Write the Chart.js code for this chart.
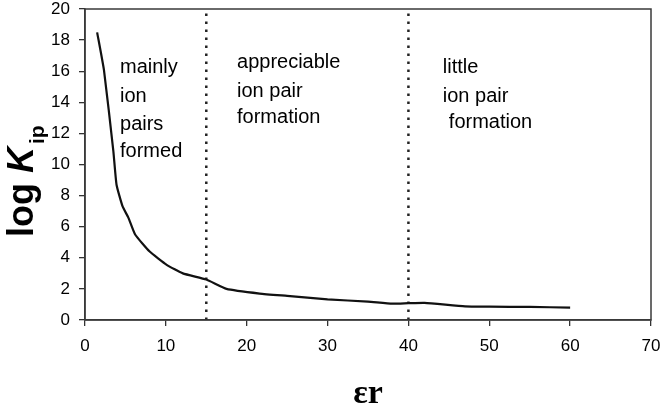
<!DOCTYPE html>
<html>
<head>
<meta charset="utf-8">
<script src="https://cdn.jsdelivr.net/npm/chart.js@4"></script>
<style>
  html, body { margin: 0; padding: 0; background: #fff; }
  #wrap { width: 662px; height: 411px; }
</style>
</head>
<body>
<div id="wrap"><canvas id="c"></canvas></div>
<script>
// relative permittivity vs log Kip
var epsR = [1.5, 2.35, 3.5, 3.9, 4.65, 5.35, 6.2, 8.0, 10.1, 12.1, 15.0, 17.5, 21.6, 25, 30, 35, 38, 40, 42, 47, 50, 55, 60];
var logKip = [18.5, 16.05, 10.9, 8.7, 7.3, 6.6, 5.5, 4.4, 3.55, 3.0, 2.6, 2.0, 1.7, 1.55, 1.33, 1.18, 1.05, 1.08, 1.1, 0.88, 0.86, 0.84, 0.8];

// region boundaries (dotted lines)
var boundaries = [15, 40];

var xTicks = [0, 10, 20, 30, 40, 50, 60, 70];
var yTicks = [0, 2, 4, 6, 8, 10, 12, 14, 16, 18, 20];

// region labels: text, x, y in data units
var regionText = [
    ["mainly", 4.33, 15.88],
    ["ion", 4.33, 14.04],
    ["pairs", 4.33, 12.22],
    ["formed", 4.33, 10.48],
    ["appreciable", 18.8, 16.2],
    ["ion pair", 18.8, 14.34],
    ["formation", 18.8, 12.67],
    ["little", 44.25, 15.88],
    ["ion pair", 44.25, 14.02],
    ["formation", 45.0, 12.35]
];

var curve = epsR.map(function (x, i) { return { x: x, y: logKip[i] }; });

var datasets = [
    {
        data: curve,
        showLine: true,
        borderColor: "#111",
        borderWidth: 2.2,
        pointRadius: 0,
        tension: 0.15
    }
];
boundaries.forEach(function (b) {
    datasets.push({
        data: [{ x: b, y: yTicks[0] }, { x: b, y: yTicks[yTicks.length - 1] }],
        showLine: true,
        borderColor: "#222",
        borderWidth: 2.5,
        borderDash: [2.5, 5.5],
        pointRadius: 0
    });
});

var extras = {
    id: "extras",
    afterDraw: function (chart) {
        var ctx = chart.ctx;
        var a = chart.chartArea;
        var xs = chart.scales.x, ys = chart.scales.y;
        ctx.save();
        // plot frame
        ctx.strokeStyle = "#3a3a3a";
        ctx.lineWidth = 1.5;
        ctx.strokeRect(a.left, a.top, a.right - a.left, a.bottom - a.top);

        // region texts
        ctx.fillStyle = "#000";
        ctx.font = "20px 'Liberation Sans', Arial, sans-serif";
        ctx.textAlign = "left";
        ctx.textBaseline = "alphabetic";
        regionText.forEach(function (t) {
            ctx.fillText(t[0], xs.getPixelForValue(t[1]), ys.getPixelForValue(t[2]));
        });

        // x title
        ctx.font = "bold 34px 'Liberation Serif', 'DejaVu Serif', serif";
        ctx.textAlign = "center";
        ctx.textBaseline = "alphabetic";
        ctx.fillText("\u03b5r", (a.left + a.right) / 2, 403);

        // y title: log K_ip
        ctx.translate(33, 237);
        ctx.rotate(-Math.PI / 2);
        ctx.textAlign = "left";
        ctx.font = "bold 36px 'Liberation Sans', Arial, sans-serif";
        ctx.fillText("log ", 0, 0);
        var w = ctx.measureText("log ").width;
        ctx.font = "italic bold 36px 'Liberation Sans', Arial, sans-serif";
        ctx.fillText("K", w, 0);
        w += ctx.measureText("K").width + 3;
        ctx.font = "bold 21px 'Liberation Sans', Arial, sans-serif";
        ctx.fillText("ip", w, 11);
        ctx.restore();
    }
};

var tickFont = { family: "'Liberation Sans', Arial, sans-serif", size: 17 };

new Chart(document.getElementById("c").getContext("2d"), {
    type: "scatter",
    data: { datasets: datasets },
    options: {
        responsive: true,
        maintainAspectRatio: false,
        animation: false,
        layout: { padding: { top: 9, right: 11, left: 0, bottom: 0 } },
        plugins: { legend: { display: false }, tooltip: { enabled: false } },
        scales: {
            x: {
                type: "linear",
                min: xTicks[0],
                max: xTicks[xTicks.length - 1],
                afterBuildTicks: function (s) { s.ticks = xTicks.map(function (v) { return { value: v }; }); },
                afterFit: function (s) { s.height = 91; s.paddingLeft = 0; s.paddingRight = 0; },
                ticks: { color: "#000", font: tickFont, padding: 10, maxRotation: 0 },
                grid: { drawOnChartArea: false, color: "#333", tickLength: 6, lineWidth: 1.3 },
                border: { color: "#3a3a3a", width: 1.5 }
            },
            y: {
                type: "linear",
                min: yTicks[0],
                max: yTicks[yTicks.length - 1],
                afterBuildTicks: function (s) { s.ticks = yTicks.map(function (v) { return { value: v }; }); },
                afterFit: function (s) { s.width = 85; s.paddingTop = 0; s.paddingBottom = 0; },
                ticks: { color: "#000", font: tickFont, padding: 9 },
                grid: { drawOnChartArea: false, color: "#333", tickLength: 6, lineWidth: 1.3 },
                border: { color: "#3a3a3a", width: 1.5 }
            }
        }
    },
    plugins: [extras]
});
</script>
</body>
</html>
